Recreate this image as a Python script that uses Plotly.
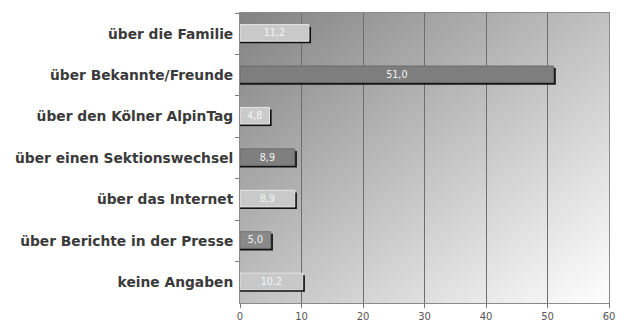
import base64
import plotly.graph_objects as go

categories = [
    "über die Familie",
    "über Bekannte/Freunde",
    "über den Kölner AlpinTag",
    "über einen Sektionswechsel",
    "über das Internet",
    "über Berichte in der Presse",
    "keine Angaben",
]
values = [11.2, 51.0, 4.8, 8.9, 8.9, 5.0, 10.2]
bar_colors = ["#c9c9c9", "#7e7e7e", "#cacaca", "#7f7f7f", "#c9c9c9", "#8a8a8a", "#c8c8c8"]
line_colors = ["#e6e6e6", "#6a6a6a", "#e6e6e6", "#6a6a6a", "#e6e6e6", "#707070", "#e2e2e2"]
x_ticks = [0, 10, 20, 30, 40, 50, 60]

svg = (
    '<svg xmlns="http://www.w3.org/2000/svg" width="400" height="300" '
    'viewBox="0 0 400 300" preserveAspectRatio="none">'
    '<defs><linearGradient id="g" x1="0" y1="0" x2="1" y2="1">'
    '<stop offset="0" stop-color="#828282"/>'
    '<stop offset="1" stop-color="#ffffff"/>'
    '</linearGradient></defs>'
    '<rect x="0" y="0" width="400" height="300" fill="url(#g)"/></svg>'
)
bg_src = "data:image/svg+xml;base64," + base64.b64encode(svg.encode()).decode()

fig = go.Figure()

# shadow bars
fig.add_trace(go.Bar(
    y=categories,
    x=[v + 0.35 for v in values],
    orientation="h",
    width=0.4,
    offset=-0.17,
    marker=dict(color="#111111", line=dict(width=0)),
    hoverinfo="skip",
    showlegend=False,
))

# main bars
fig.add_trace(go.Bar(
    y=categories,
    x=values,
    orientation="h",
    width=0.4,
    offset=-0.22,
    marker=dict(color=bar_colors, line=dict(color=line_colors, width=1)),
    texttemplate="%{x:.1f}",
    textposition="inside",
    insidetextanchor="middle",
    textangle=0,
    textfont=dict(color="#f4f4f4", size=10, family="DejaVu Sans"),
    showlegend=False,
))

fig.update_layout(
    width=627,
    height=334,
    margin=dict(l=240, r=14, t=12, b=22),
    barmode="overlay",
    separators=",.",
    paper_bgcolor="#ffffff",
    plot_bgcolor="rgba(0,0,0,0)",
    font=dict(family="DejaVu Sans", color="#222222"),
    uniformtext=dict(minsize=8, mode="show"),
    images=[dict(
        source=bg_src, xref="paper", yref="paper", x=0, y=1,
        sizex=1, sizey=1, sizing="stretch", layer="below",
        xanchor="left", yanchor="top",
    )],
)

fig.update_xaxes(
    range=[0, 60],
    tickvals=x_ticks,
    ticktext=[str(t) for t in x_ticks],
    showgrid=True,
    gridcolor="#6e6e6e",
    gridwidth=1,
    showline=True,
    linecolor="#8a8a8a",
    linewidth=1,
    mirror=True,
    ticks="outside",
    ticklen=4,
    tickcolor="#7a7a7a",
    tickfont=dict(size=10, color="#555555", family="DejaVu Sans"),
    zeroline=False,
    fixedrange=True,
)

fig.update_yaxes(
    autorange="reversed",
    categoryorder="array",
    categoryarray=categories,
    showgrid=False,
    showline=True,
    linecolor="#8a8a8a",
    linewidth=1,
    mirror=True,
    ticks="outside",
    tickson="boundaries",
    ticklen=4,
    tickcolor="#7a7a7a",
    tickfont=dict(size=13.8, color="#3a3a3a", family="DejaVu Sans", weight="bold"),
    ticklabelstandoff=3,
    fixedrange=True,
)

fig.write_html("out.html")
